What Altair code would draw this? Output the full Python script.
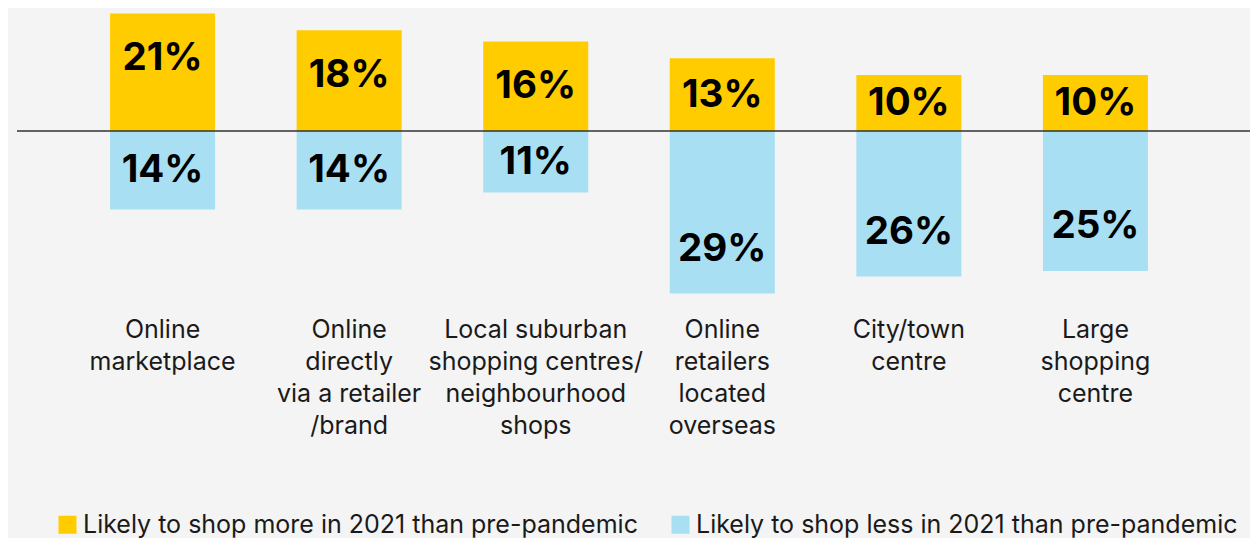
import altair as alt
import pandas as pd

categories = [
    "Online\nmarketplace",
    "Online\ndirectly\nvia a retailer\n/brand",
    "Local suburban\nshopping centres/\nneighbourhood\nshops",
    "Online\nretailers\nlocated\noverseas",
    "City/town\ncentre",
    "Large\nshopping\ncentre",
]
more_values = [21, 18, 16, 13, 10, 10]
less_values = [14, 14, 11, 29, 26, 25]
series_names = [
    "Likely to shop more in 2021 than pre-pandemic",
    "Likely to shop less in 2021 than pre-pandemic",
]
colors = ["#FFCC00", "#A9DFF3"]

rows = []
for i, c in enumerate(categories):
    rows.append({"cat": c, "order": i, "series": series_names[0], "v": more_values[i], "signed": more_values[i]})
    rows.append({"cat": c, "order": i, "series": series_names[1], "v": less_values[i], "signed": -less_values[i]})
df = pd.DataFrame(rows)
cat_df = pd.DataFrame({"cat": categories})

FONT = "Inter"
W, H = 1242, 530
yscale = alt.Scale(domain=[-72.68, 21.96], range=[H, 0], nice=False, zero=False)
xscale = alt.Scale(domain=categories, paddingInner=0.437, paddingOuter=0.547)
x_enc = alt.X("cat:N", scale=xscale, axis=None, sort=categories)

bars = alt.Chart(df).mark_bar().encode(
    x=x_enc,
    y=alt.Y("signed:Q", scale=yscale, axis=None),
    color=alt.Color(
        "series:N",
        scale=alt.Scale(domain=series_names, range=colors),
        sort=series_names,
        legend=alt.Legend(
            title=None,
            orient="none",
            legendX=47,
            legendY=504,
            direction="horizontal",
            symbolType="square",
            symbolSize=324,
            symbolStrokeWidth=0,
            labelFont=FONT,
            labelFontSize=25,
            labelColor="#1a1a1a",
            labelOffset=3,
            columnPadding=30,
            labelLimit=800,
        ),
    ),
)

labels = alt.Chart(df).transform_calculate(
    pos="(datum.signed > 0 ? 1 : -1) * max(datum.v - 8, datum.v / 2)",
    txt="datum.v + '%'",
).mark_text(font=FONT, fontSize=38.5, fontWeight="bold", color="#000000", baseline="middle", align="center").encode(
    x=x_enc,
    y=alt.Y("pos:Q", scale=yscale),
    text="txt:N",
)

rule = alt.Chart(pd.DataFrame({"z": [0]})).mark_rule(color="#333333", strokeWidth=1.3).encode(
    y=alt.Y("z:Q", scale=yscale),
    x=alt.value(9),
    x2=alt.value(W),
)

cat_text = alt.Chart(cat_df).mark_text(
    font=FONT, fontSize=25, color="#1a1a1a", align="center", baseline="alphabetic", lineBreak="\n", lineHeight=32
).encode(
    x=x_enc,
    y=alt.value(330),
    text="cat:N",
)

chart = alt.layer(bars, labels, rule, cat_text).properties(
    width=W, height=H, padding=0, autosize=alt.AutoSizeParams(type="none"), background="#F4F4F4"
).configure_view(stroke=None)

chart.save("out.html", embed_options={"renderer": "svg", "actions": False})
